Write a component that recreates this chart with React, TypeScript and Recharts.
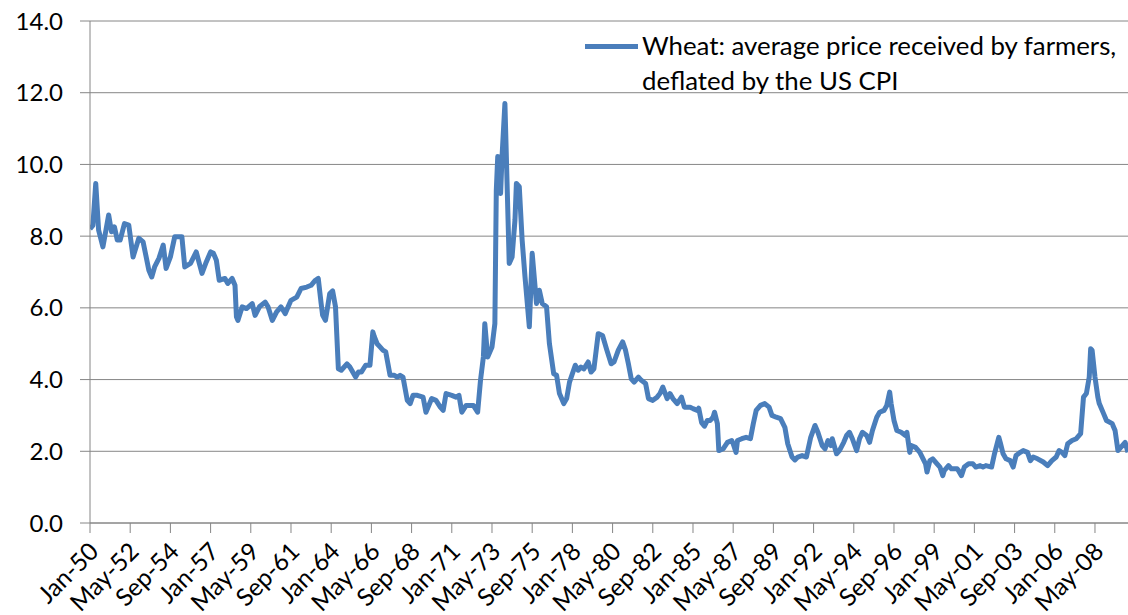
import React from 'react';
import { LineChart, Line, XAxis, YAxis, CartesianGrid, Legend } from 'recharts';

// months counted from Jan-1950, one row per 10 readings
const monthsSince1950 = [
  0, 2, 4, 6, 9, 13, 15, 17, 19, 21,
  24, 27, 30, 34, 37, 41, 43, 45, 48, 51,
  53, 56, 59, 64, 66, 70, 74, 78, 81, 84,
  86, 88, 90, 94, 96, 99, 101, 102, 103, 106,
  109, 113, 115, 118, 122, 124, 127, 130, 133, 136,
  138, 140, 144, 147, 151, 154, 157, 159, 161, 162,
  164, 167, 169, 171, 173, 175, 179, 181, 185, 187,
  189, 192, 195, 197, 198, 200, 202, 204, 206, 209,
  212, 214, 216, 218, 221, 223, 225, 228, 232, 234,
  238, 241, 244, 246, 248, 252, 255, 257, 259, 262,
  267, 270, 272, 274, 275, 277, 280, 282, 283, 284,
  286, 287, 289, 290, 292, 294, 296, 297, 299, 301,
  303, 306, 307, 308, 311, 313, 315, 318, 320, 323,
  325, 327, 330, 332, 334, 338, 340, 342, 344, 347,
  349, 351, 354, 357, 360, 363, 365, 368, 371, 373,
  375, 377, 379, 382, 384, 387, 389, 392, 395, 397,
  399, 402, 404, 406, 409, 412, 414, 418, 420, 423,
  424, 426, 428, 430, 432, 434, 435, 437, 438, 441,
  444, 447, 448, 450, 451, 454, 457, 460, 462, 464,
  467, 470, 473, 475, 478, 481, 484, 486, 489, 491,
  493, 496, 499, 502, 505, 507, 510, 512, 514, 516,
  517, 520, 522, 525, 527, 529, 531, 534, 536, 538,
  541, 543, 545, 548, 550, 553, 555, 557, 558, 560,
  562, 565, 568, 569, 571, 572, 575, 578, 582, 583,
  585, 587, 590, 592, 594, 595, 598, 600, 604, 605,
  607, 609, 612, 615, 617, 620, 622, 624, 628, 630,
  633, 634, 636, 638, 641, 643, 645, 648, 650, 653,
  655, 657, 660, 664, 667, 670, 673, 675, 677, 679,
  681, 684, 687, 690, 692, 694, 696, 697, 698, 700,
  702, 703, 706, 708, 712, 714, 716, 718, 721, 723,
];

const wheatPrice = [
  8.2, 8.3, 9.47, 8.17, 7.7, 8.59, 8.12, 8.26, 7.89, 7.89,
  8.35, 8.31, 7.42, 7.94, 7.84, 7.05, 6.86, 7.14, 7.38, 7.75,
  7.1, 7.42, 7.98, 7.98, 7.14, 7.24, 7.56, 6.96, 7.28, 7.56,
  7.52, 7.33, 6.77, 6.82, 6.68, 6.82, 6.63, 5.75, 5.65, 6.03,
  5.98, 6.12, 5.79, 6.03, 6.16, 6.03, 5.65, 5.89, 6.03, 5.84,
  6.03, 6.21, 6.3, 6.54, 6.58, 6.63, 6.77, 6.82, 6.12, 5.8,
  5.65, 6.4, 6.47, 6.03, 4.3, 4.26, 4.44, 4.35, 4.07, 4.21,
  4.21, 4.4, 4.4, 5.33, 5.2, 5.0, 4.91, 4.82, 4.77, 4.12,
  4.12, 4.07, 4.12, 4.07, 3.42, 3.33, 3.56, 3.56, 3.51, 3.09,
  3.47, 3.42, 3.23, 3.14, 3.61, 3.56, 3.51, 3.56, 3.09, 3.28,
  3.28, 3.09, 3.98, 4.63, 5.56, 4.63, 4.91, 5.56, 9.28, 10.22,
  9.19, 10.22, 11.7, 10.22, 7.24, 7.42, 8.45, 9.47, 9.38, 7.89,
  6.86, 5.47, 6.49, 7.52, 6.12, 6.49, 6.12, 6.03, 5.0, 4.16,
  4.12, 3.61, 3.33, 3.47, 3.93, 4.4, 4.26, 4.35, 4.3, 4.49,
  4.21, 4.3, 5.28, 5.23, 4.82, 4.44, 4.49, 4.82, 5.05, 4.82,
  4.44, 4.02, 3.93, 4.07, 3.98, 3.89, 3.47, 3.42, 3.51, 3.61,
  3.79, 3.47, 3.61, 3.47, 3.33, 3.51, 3.23, 3.23, 3.19, 3.14,
  3.2, 2.8, 2.7, 2.86, 2.86, 2.95, 3.09, 2.77, 2.02, 2.07,
  2.25, 2.3, 2.21, 1.97, 2.3, 2.35, 2.39, 2.35, 2.77, 3.14,
  3.28, 3.33, 3.23, 3.0, 2.95, 2.91, 2.67, 2.21, 1.84, 1.76,
  1.84, 1.88, 1.84, 2.39, 2.72, 2.53, 2.16, 2.07, 2.3, 2.16,
  2.35, 1.93, 2.02, 2.25, 2.44, 2.53, 2.35, 2.02, 2.35, 2.53,
  2.44, 2.25, 2.58, 2.95, 3.09, 3.14, 3.28, 3.65, 3.33, 2.86,
  2.58, 2.53, 2.44, 2.53, 1.97, 2.16, 2.11, 1.97, 1.65, 1.42,
  1.74, 1.79, 1.65, 1.56, 1.32, 1.46, 1.6, 1.51, 1.51, 1.46,
  1.32, 1.56, 1.65, 1.65, 1.56, 1.6, 1.56, 1.6, 1.56, 1.93,
  2.39, 2.25, 1.93, 1.79, 1.74, 1.56, 1.88, 1.97, 2.02, 1.97,
  1.74, 1.84, 1.79, 1.7, 1.6, 1.74, 1.84, 2.02, 1.97, 1.88,
  2.21, 2.3, 2.35, 2.49, 3.51, 3.61, 4.07, 4.86, 4.82, 4.07,
  3.51, 3.33, 3.05, 2.86, 2.77, 2.58, 2.02, 2.11, 2.25, 1.97,
];

const tickLabels = [
  'Jan-50', 'May-52', 'Sep-54', 'Jan-57', 'May-59', 'Sep-61', 'Jan-64',
  'May-66', 'Sep-68', 'Jan-71', 'May-73', 'Sep-75', 'Jan-78', 'May-80',
  'Sep-82', 'Jan-85', 'May-87', 'Sep-89', 'Jan-92', 'May-94', 'Sep-96',
  'Jan-99', 'May-01', 'Sep-03', 'Jan-06', 'May-08',
];

const yTicks = [0, 2, 4, 6, 8, 10, 12, 14];

const MONTHS = ['Jan', 'Feb', 'Mar', 'Apr', 'May', 'Jun', 'Jul', 'Aug', 'Sep', 'Oct', 'Nov', 'Dec'];
const FONT = 'Lato, "DejaVu Sans", sans-serif';
const BLUE = '#4a7ebb';
const GRID = '#868686';

const labelToMonth = (label: string) => {
  const [mon, yy] = label.split('-');
  const y = parseInt(yy, 10);
  return (y >= 50 ? y - 50 : y + 50) * 12 + MONTHS.indexOf(mon);
};

const tickMonths = tickLabels.map(labelToMonth);
const labelByMonth: Record<number, string> = {};
tickLabels.forEach((l, i) => { labelByMonth[tickMonths[i]] = l; });

const data = monthsSince1950.map((m, i) => ({ m, price: wheatPrice[i] }));

const XTick = (props: any) => {
  const { x, y, payload } = props;
  return (
    <g transform={`translate(${x + 4},${y + 12})`}>
      <text transform="rotate(-45)" textAnchor="end" dy="0.35em" fontSize={24.5} fontFamily={FONT} fill="#000">
        {labelByMonth[payload.value]}
      </text>
    </g>
  );
};

const LegendBox = () => (
  <div style={{ position: 'relative', fontFamily: FONT, fontSize: 25.8, color: '#000', lineHeight: '35px' }}>
    <div style={{ position: 'absolute', left: 0, top: 16, width: 53, height: 5, background: BLUE }} />
    <div style={{ marginLeft: 57 }}>
      <div style={{ whiteSpace: 'nowrap' }}>Wheat: average price received by farmers,</div>
      <div style={{ whiteSpace: 'nowrap' }}>deflated by the US CPI</div>
    </div>
  </div>
);

const App: React.FC = () => {
  return (
    <div style={{ position: 'absolute', left: 0, top: 0, width: 1128, height: 615, overflow: 'hidden', background: '#fff' }}>
      <LineChart width={1128} height={615} data={data} margin={{ top: 21, right: 0, bottom: 0, left: 0 }}>
        <CartesianGrid vertical={false} stroke={GRID} strokeWidth={1} />
        <XAxis
          dataKey="m"
          type="number"
          domain={[0, 723]}
          ticks={tickMonths}
          interval={0}
          height={92}
          tickSize={10}
          stroke={GRID}
          tick={<XTick />}
          allowDataOverflow
        />
        <YAxis
          domain={[0, 14]}
          ticks={yTicks}
          interval={0}
          width={90}
          tickSize={10}
          tickMargin={17}
          stroke={GRID}
          tickFormatter={(v: number) => v.toFixed(1)}
          tick={{ fill: '#000', fontSize: 24, fontFamily: FONT }}
        />
        <Legend
          layout="vertical"
          align="center"
          verticalAlign="middle"
          content={<LegendBox />}
          wrapperStyle={{ position: 'absolute', left: 585, top: 28, width: 543, height: 80 }}
        />
        <Line
          type="linear"
          dataKey="price"
          stroke={BLUE}
          strokeWidth={5}
          strokeLinejoin="round"
          dot={false}
          activeDot={false}
          isAnimationActive={false}
        />
      </LineChart>
    </div>
  );
};

export default App;
